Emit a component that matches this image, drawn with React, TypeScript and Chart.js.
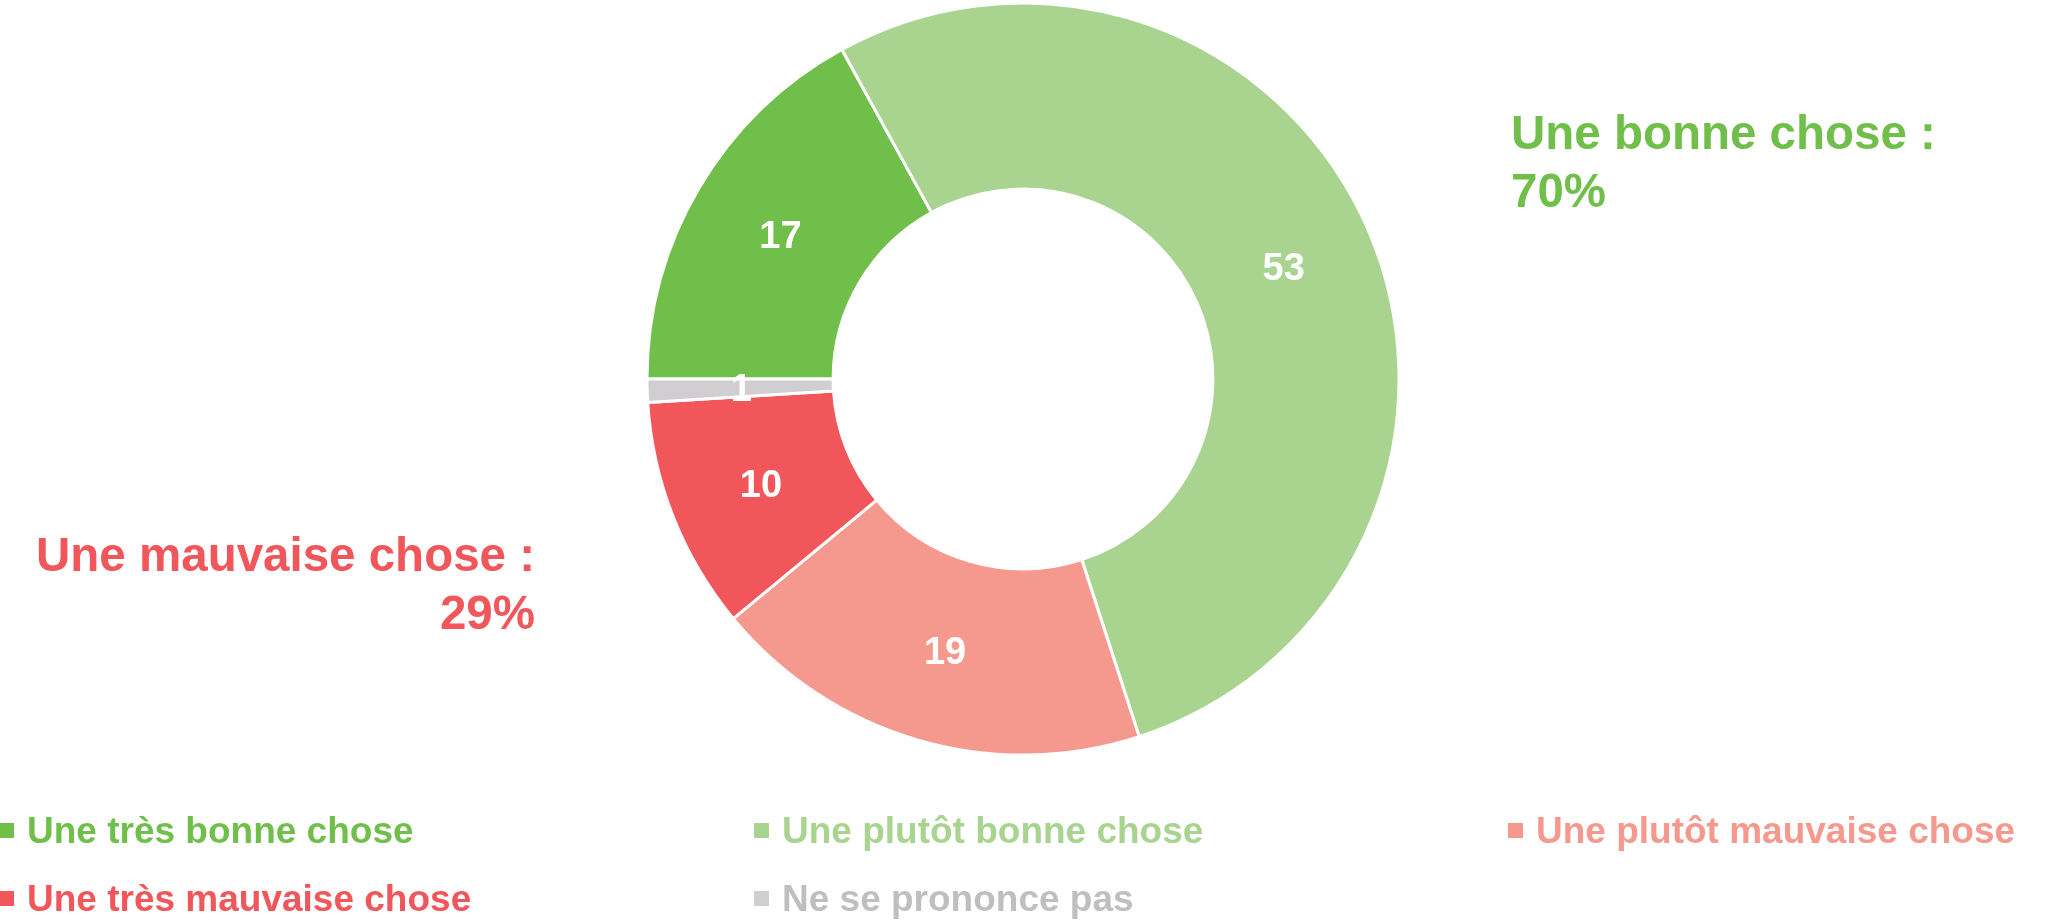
import React, { useEffect, useRef } from "react";
import { Chart, registerables } from "chart.js";

Chart.register(...registerables);

const categories = [
  "Une très bonne chose",
  "Une plutôt bonne chose",
  "Une plutôt mauvaise chose",
  "Une très mauvaise chose",
  "Ne se prononce pas",
];
const values = [17, 53, 19, 10, 1];
const sliceColors = ["#70BF4B", "#A9D48F", "#F5998E", "#F0565A", "#D0CED0"];
const legendTextColors = ["#70BF4B", "#A9D48F", "#F5998E", "#F0565A", "#BFBFBF"];
const summaryTitles = ["Une bonne chose :", "Une mauvaise chose :"];
const summaryValues = [values[0] + values[1], values[2] + values[3]];
const summaryColors = ["#70BF4B", "#F0565A"];

const FONT = '"Liberation Sans", Arial, sans-serif';

const dataLabelPlugin = {
  id: "dataLabels",
  afterDatasetsDraw(chart: any) {
    const ctx = chart.ctx;
    const meta = chart.getDatasetMeta(0);
    ctx.save();
    ctx.fillStyle = "#FFFFFF";
    ctx.font = `bold 38px ${FONT}`;
    ctx.textAlign = "center";
    ctx.textBaseline = "middle";
    meta.data.forEach((arc: any, i: number) => {
      const p = arc.getCenterPoint();
      ctx.fillText(String(chart.data.datasets[0].data[i]), p.x + 1, p.y + 3);
    });
    ctx.restore();
  },
};

const annotationPlugin = {
  id: "summaries",
  afterDraw(chart: any) {
    const ctx = chart.ctx;
    ctx.save();
    ctx.font = `bold 47.5px ${FONT}`;
    ctx.textBaseline = "alphabetic";
    ctx.fillStyle = summaryColors[0];
    ctx.textAlign = "left";
    ctx.fillText(summaryTitles[0], 1511, 149);
    ctx.fillText(`${summaryValues[0]}%`, 1511, 207);
    ctx.fillStyle = summaryColors[1];
    ctx.textAlign = "right";
    ctx.fillText(summaryTitles[1], 535, 571);
    ctx.fillText(`${summaryValues[1]}%`, 535, 629);
    ctx.restore();
  },
};

const legendPlugin = {
  id: "gridLegend",
  afterDraw(chart: any) {
    const ctx = chart.ctx;
    const colBoxX = [-1, 754, 1508];
    const rowBaseline = [843, 911];
    const box = 15;
    ctx.save();
    ctx.font = `bold 37px ${FONT}`;
    ctx.textBaseline = "alphabetic";
    ctx.textAlign = "left";
    categories.forEach((label, i) => {
      const col = i % 3;
      const row = Math.floor(i / 3);
      const bx = colBoxX[col];
      const base = rowBaseline[row];
      ctx.fillStyle = sliceColors[i];
      ctx.fillRect(bx, base - 20, box, box);
      ctx.fillStyle = legendTextColors[i];
      ctx.fillText(label, bx + 28, base);
    });
    ctx.restore();
  },
};

export default function App() {
  const canvasRef = useRef<HTMLCanvasElement | null>(null);

  useEffect(() => {
    document.body.style.margin = "0";
    const canvas = canvasRef.current;
    if (!canvas) return;
    const chart = new Chart(canvas, {
      type: "doughnut",
      data: {
        labels: categories,
        datasets: [
          {
            data: values,
            backgroundColor: sliceColors,
            borderColor: "#FFFFFF",
            borderWidth: 3,
            hoverOffset: 0,
            offset: 0,
          },
        ],
      },
      options: {
        responsive: false,
        devicePixelRatio: 1,
        animation: false,
        rotation: -90,
        radius: 376,
        cutout: "50.5%",
        layout: { padding: { left: 0, right: 3, top: 4, bottom: 169 } },
        plugins: {
          legend: { display: false },
          tooltip: { enabled: false },
        },
        events: [],
      },
      plugins: [dataLabelPlugin, annotationPlugin, legendPlugin],
    });
    return () => chart.destroy();
  }, []);

  return (
    <div style={{ width: 2049, height: 923, background: "#FFFFFF" }}>
      <canvas ref={canvasRef} width={2049} height={923} style={{ display: "block" }} />
    </div>
  );
}
